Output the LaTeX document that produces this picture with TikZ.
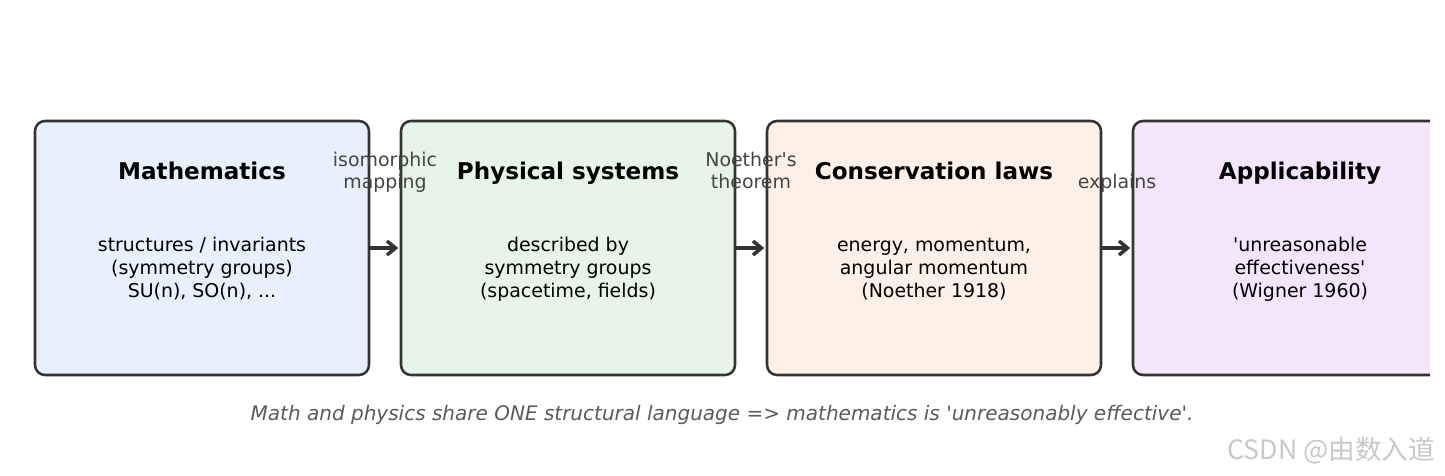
\documentclass[tikz,border=0pt]{standalone}
\usepackage{fontspec}
\setmainfont{DejaVu Sans}[Ligatures=TeXOff]
\newfontfamily\cjkfont{Noto Sans CJK SC}
\usepackage{xcolor}
\usetikzlibrary{positioning,arrows.meta}

\definecolor{edgegray}{HTML}{333333}
\definecolor{labelgray}{HTML}{444444}
\definecolor{captiongray}{HTML}{5A5A5A}
\definecolor{wmgray}{HTML}{C8C8C8}
\definecolor{mathblue}{HTML}{E8F0FD}
\definecolor{physgreen}{HTML}{E6F4EA}
\definecolor{conspeach}{HTML}{FDF0E6}
\definecolor{applpurple}{HTML}{F3E6FC}

\begin{document}
\begin{tikzpicture}[x=0.75pt,y=-0.75pt]
        \edef\boxwidth{250.5pt}
        \edef\boxheight{190.5pt}
        \tikzstyle{stage}=[draw=edgegray,rounded corners=7.5pt,minimum width=\boxwidth,
        minimum height=\boxheight,line width=1.9pt,outer sep=0pt]
        \tikzstyle{stagetitle}=[anchor=base,font=\fontsize{17.3}{21}\selectfont\bfseries]
        \tikzstyle{stagetext}=[align=center,font=\fontsize{14.2}{17.25}\selectfont]
        \tikzstyle{flowlabel}=[align=center,text=labelgray,anchor=south,inner sep=0pt,
        font=\fontsize{14.2}{16.5}\selectfont]
        \tikzstyle{flow}=[-{Straight Barb[length=6.5pt,width=10.5pt,line width=2.6pt]},draw=edgegray,
        line width=2.3pt,line join=round,shorten >=2pt]

        \useasboundingbox (0,0) rectangle (1445,475);

        %% Draw the four stages
        \begin{scope}
            \clip (0,0) rectangle (1430,475);
            % Boxes
            \node [stage,fill=mathblue] (math) at (202,248) {};
            \node [stage,fill=physgreen,right=24pt of math] (phys) {};
            \node [stage,fill=conspeach,right=24pt of phys] (cons) {};
            \node [stage,fill=applpurple,right=24pt of cons] (appl) {};

            % Titles
            \node [stagetitle] (mathtitle) at ([yshift=-43.9pt]math.north) {Mathematics};
            \node [stagetitle] (phystitle) at ([yshift=-43.9pt]phys.north) {Physical systems};
            \node [stagetitle] (constitle) at ([yshift=-43.9pt]cons.north) {Conservation laws};
            \node [stagetitle] (appltitle) at ([yshift=-43.9pt]appl.north) {Applicability};

            % Contents
            \node [stagetext] (mathtext) at ([yshift=-15.75pt]math.center)
            	{structures / invariants\\(symmetry groups)\\SU(n), SO(n), ...};
            \node [stagetext] (phystext) at ([yshift=-15.75pt]phys.center)
            	{described by\\symmetry groups\\(spacetime, fields)};
            \node [stagetext] (constext) at ([yshift=-15.75pt]cons.center)
            	{energy, momentum,\\angular momentum\\(Noether 1918)};
            \node [stagetext] (appltext) at ([yshift=-15.75pt]appl.center)
            	{'unreasonable\\effectiveness'\\(Wigner 1960)};
        \end{scope}

        %% Link the stages
        \draw [flow] (math) -- node[flowlabel,yshift=38.5pt] (isolabel) {isomorphic\\mapping\strut} (phys);
        \draw [flow] (phys) -- node[flowlabel,yshift=38.5pt] (noetherlabel) {Noether's\\theorem\strut} (cons);
        \draw [flow] (cons) -- node[flowlabel,yshift=38.5pt] (explabel) {explains\strut} (appl);

        %% Caption and mark
        \node [font=\fontsize{15}{18}\selectfont\itshape,text=captiongray] (caption) at (722,415)
        	{Math and physics share ONE structural language => mathematics is 'unreasonably effective'.};
        \node [anchor=east,text=wmgray,font=\cjkfont\fontsize{20}{24}\selectfont] (watermark) at (1440,451)
        	{CSDN @由数入道};

    \end{tikzpicture}
\end{document}
